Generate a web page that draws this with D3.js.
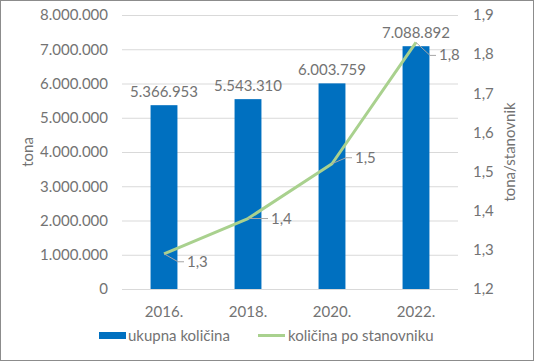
<!DOCTYPE html>
<html>
<head>
<meta charset="utf-8">
<script src="https://cdn.jsdelivr.net/npm/d3@7"></script>
<style>
  body { margin: 0; background: #fff; }
  svg text { font-family: Lato, "Open Sans", sans-serif; fill: #737373; }
</style>
</head>
<body>
<svg id="chart" width="534" height="361"></svg>
<script>
// data
var years = ["2016.", "2018.", "2020.", "2022."];
var totals = [5366953, 5543310, 6003759, 7088892];
var perCapita = [1.29, 1.38, 1.52, 1.83];
var perCapitaLabels = ["1,3", "1,4", "1,5", "1,8"];
var leftTicks = [0, 1000000, 2000000, 3000000, 4000000, 5000000, 6000000, 7000000, 8000000];
var rightTicks = [1.2, 1.3, 1.4, 1.5, 1.6, 1.7, 1.8, 1.9];

var svg = d3.select("#chart");
var W = 534, H = 361;
var margin = { left: 122, right: 76, top: 15, bottom: 72 };
var x0 = margin.left, x1 = W - margin.right, yTop = margin.top, yBot = H - margin.bottom;

const fmtThousands = d => d3.format(",")(d).replace(/,/g, ".");
const fmtComma = d => d3.format(".1f")(d).replace(".", ",");

svg.append("rect").attr("x", 0.5).attr("y", 0.5).attr("width", W - 1).attr("height", H - 1)
  .attr("fill", "#fff").attr("stroke", "#8c8c8c");

var x = d3.scaleBand().domain(years).range([x0, x1]).paddingInner(0.68).paddingOuter(0.34);
var yL = d3.scaleLinear().domain([0, 8000000]).range([yBot, yTop]);
var yR = d3.scaleLinear().domain([1.2, 1.9]).range([yBot, yTop]);

// gridlines
svg.append("g").selectAll("line").data(leftTicks).join("line")
  .attr("x1", x0).attr("x2", x1)
  .attr("y1", d => yL(d) + 0.5).attr("y2", d => yL(d) + 0.5)
  .attr("stroke", "#d9d9d9").attr("stroke-width", 1);

// left axis
var gL = svg.append("g").attr("transform", `translate(${x0 - 14},0)`)
  .call(d3.axisLeft(yL).tickValues(leftTicks).tickFormat(fmtThousands).tickSize(0).tickPadding(0));
gL.select(".domain").remove();
gL.selectAll("text").style("font-size", "15px").attr("fill", "#737373");

// right axis
var gR = svg.append("g").attr("transform", `translate(${x1 + 15},0)`)
  .call(d3.axisRight(yR).tickValues(rightTicks).tickFormat(fmtComma).tickSize(0).tickPadding(0));
gR.select(".domain").remove();
gR.selectAll("text").style("font-size", "15px").attr("fill", "#737373");

// x axis labels
svg.append("g").selectAll("text").data(years).join("text")
  .attr("x", d => x(d) + x.bandwidth() / 2).attr("y", yBot + 28)
  .attr("text-anchor", "middle").style("font-size", "15px").text(d => d);

// axis titles
svg.append("text").attr("transform", `translate(33,${(yTop + yBot) / 2}) rotate(-90)`)
  .attr("text-anchor", "middle").style("font-size", "15px").text("tona");
svg.append("text").attr("transform", `translate(515,${(yTop + yBot) / 2}) rotate(-90)`)
  .attr("text-anchor", "middle").style("font-size", "15px").text("tona/stanovnik");

// bars
svg.append("g").selectAll("rect").data(totals).join("rect")
  .attr("x", (d, i) => x(years[i])).attr("width", x.bandwidth())
  .attr("y", d => yL(d)).attr("height", d => yBot - yL(d))
  .attr("fill", "#0070c0");

svg.append("g").selectAll("text").data(totals).join("text")
  .attr("x", (d, i) => x(years[i]) + x.bandwidth() / 2).attr("y", d => yL(d) - 8)
  .attr("text-anchor", "middle").style("font-size", "15px").text(fmtThousands);

// line
var cx = (d, i) => x(years[i]) + x.bandwidth() / 2;
var line = d3.line().x(cx).y(d => yR(d));
svg.append("path").datum(perCapita).attr("d", line)
  .attr("fill", "none").attr("stroke", "#a9d18e").attr("stroke-width", 3).attr("stroke-linejoin", "round");

// line labels with leader lines
var offsets = [[20, 8], [20, 0], [20, -6], [20, 13]];
var lg = svg.append("g");
perCapita.forEach((v, i) => {
  var px = cx(v, i), py = yR(v);
  var lx = px + offsets[i][0], ly = py + offsets[i][1];
  lg.append("polyline")
    .attr("points", `${px},${py} ${lx - 6},${ly} ${lx},${ly}`)
    .attr("fill", "none").attr("stroke", "#a6a6a6").attr("stroke-width", 1);
  lg.append("text").attr("x", lx + 3).attr("y", ly + 5)
    .style("font-size", "15px").text(perCapitaLabels[i]);
});

// legend
var leg = svg.append("g");
leg.append("rect").attr("x", 99).attr("y", 332).attr("width", 27).attr("height", 7).attr("fill", "#0070c0");
leg.append("text").attr("x", 128).attr("y", 341).style("font-size", "15px").text("ukupna količina");
leg.append("line").attr("x1", 258).attr("x2", 285).attr("y1", 335.5).attr("y2", 335.5)
  .attr("stroke", "#a9d18e").attr("stroke-width", 3);
leg.append("text").attr("x", 288).attr("y", 341).style("font-size", "15px").text("količina po stanovniku");
</script>
</body>
</html>
